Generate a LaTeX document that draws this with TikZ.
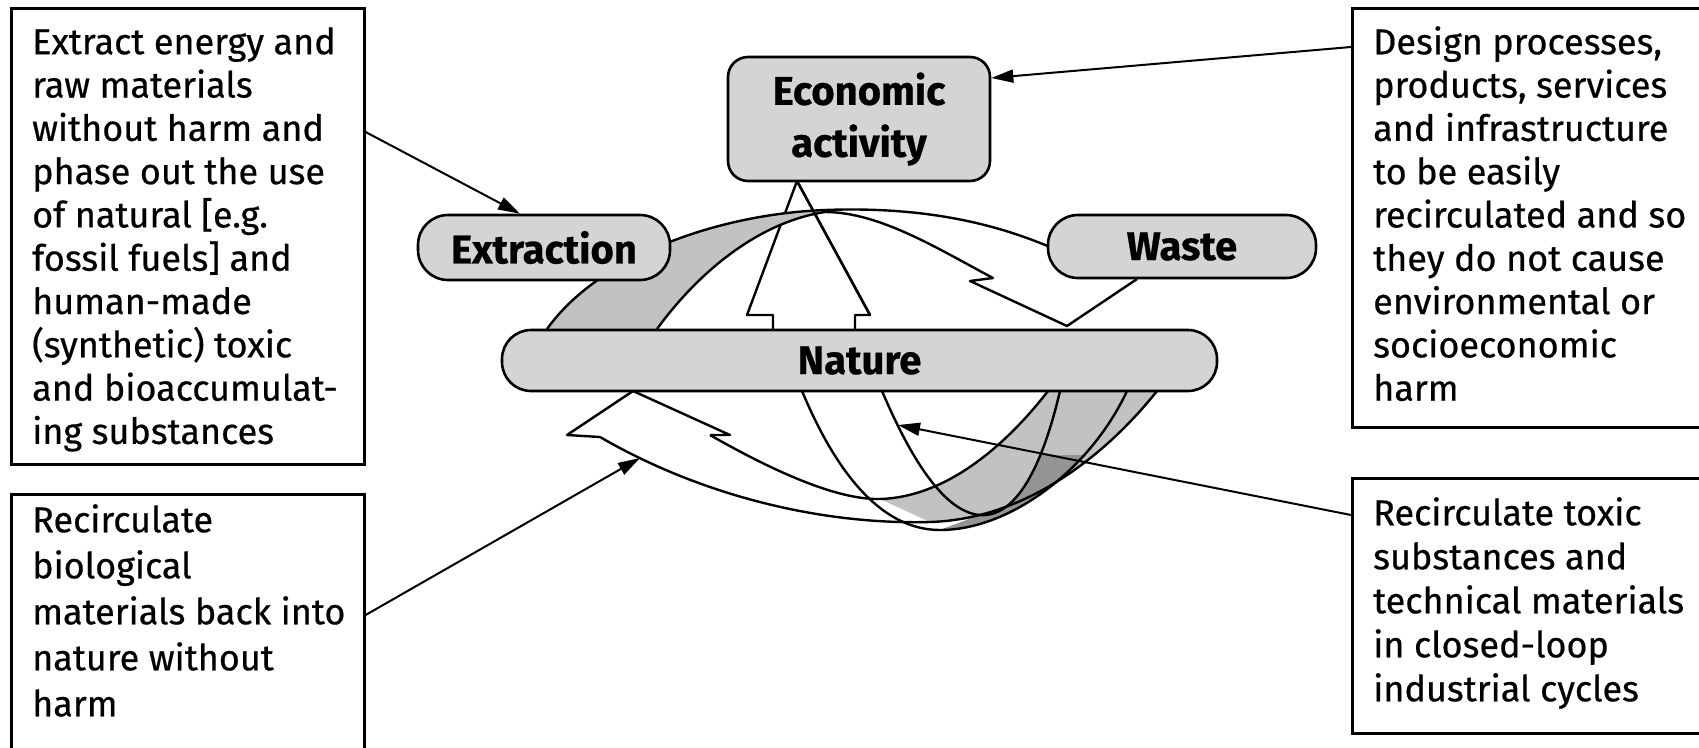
\documentclass[tikz,border=0pt]{standalone}
\usepackage{fontspec}
\setmainfont{Fira Sans}
\usetikzlibrary{arrows.meta}
\begin{document}
\begin{tikzpicture}[x=1pt,y=-1pt,
  box/.style={draw=black, line width=2.6pt, fill=white, inner sep=0pt, anchor=north west},
  lbl/.style={draw=black, line width=2.6pt, fill=black!17, font=\bfseries\fontsize{40}{52}\selectfont\addfontfeature{FakeBold=0.6}, align=center, inner sep=0pt},
  txt/.style={font=\fontsize{36}{43.3}\selectfont\addfontfeature{FakeBold=0.5}, align=left, inner sep=0pt, anchor=north west},
  edge/.style={line width=2.4pt, line join=round},
  ptr/.style={line width=2pt, -{Triangle[length=22pt,width=13pt]}},
  shadeA/.style={fill=black!24},
  shadeB/.style={fill=black!42},
]
\useasboundingbox (0,0) rectangle (1699,747);
\clip (0,0) rectangle (1699,747);
\fill[white] (0,0) rectangle (1699,747);

% text boxes
\node[box, minimum width=353pt, minimum height=456pt] (tl) at (10,7) {};
\node[box, minimum width=353pt, minimum height=300pt] (bl) at (10,493) {};
\node[box, minimum width=400pt, minimum height=419pt] (tr) at (1351,7) {};
\node[box, minimum width=400pt, minimum height=255pt] (br) at (1351,477) {};

\node[txt] (tlt) at (32,27) {Extract energy and\\raw materials\\without harm and\\phase out the use\\of natural [e.g.\\fossil fuels] and\\human-made\\(synthetic) toxic\\and bioaccumulat-\\ing substances};
\node[txt, font=\fontsize{36}{46}\selectfont\addfontfeature{FakeBold=0.5}] (blt) at (32,504) {Recirculate\\biological\\materials back into\\nature without\\harm};
\node[txt] (trt) at (1373,26) {Design processes,\\products, services\\and infrastructure\\to be easily\\recirculated and so\\they do not cause\\environmental or\\socioeconomic\\harm};
\node[txt, font=\fontsize{36}{44}\selectfont\addfontfeature{FakeBold=0.5}] (brt) at (1373,497) {Recirculate toxic\\substances and\\technical materials\\in closed-loop\\industrial cycles};

% hollow upward arrow
\draw[edge, fill=white] (773,329) -- (773,315) -- (747,315) -- (797,181) -- (870,315) -- (855,315) -- (855,329);

% top ribbon
\fill[shadeA] (547,329) .. controls (600,255) and (720,214) .. (825,210) -- (825,212) .. controls (760,222) and (700,270) .. (657,329) -- cycle;
\draw[edge] (547,329) .. controls (600,255) and (720,214) .. (825,210) .. controls (930,206) and (1000,226) .. (1050,247);
\draw[edge] (657,329) .. controls (700,270) and (760,222) .. (825,212) .. controls (880,212) and (940,250) .. (993,278) -- (970,281) -- (1067,326) -- (1137,279);
\draw[edge] (797,181) -- (870,315);

% bottom loops: fills
\fill[shadeA] (940,530) .. controls (1010,530) and (1090,470) .. (1127,391) -- (1060,391) .. controls (1045,455) and (1020,518) .. (980,515) -- cycle;
\fill[shadeA] (880,499) .. controls (950,497) and (1010,440) .. (1048,391) -- (1157,391) .. controls (1110,450) and (1030,519) .. (930,522) -- cycle;
\begin{scope}
  \clip (900,455) rectangle (1200,560);
  \fill[shadeB] (940,530) .. controls (1010,530) and (1090,470) .. (1127,391) -- (1060,391) .. controls (1045,455) and (1020,518) .. (980,515) -- cycle;
\end{scope}

% bottom loops: edges
\draw[edge] (710,435) .. controls (780,475) and (840,500) .. (880,499) .. controls (950,497) and (1010,440) .. (1048,391);
\draw[edge] (600,437) .. controls (700,495) and (820,525) .. (930,522) .. controls (1030,519) and (1110,450) .. (1157,391);
\draw[edge] (600,437) -- (567,435) -- (633,391) -- (730,435) -- (710,435);
\draw[edge] (802,391) .. controls (835,470) and (880,530) .. (940,530) .. controls (1010,530) and (1090,470) .. (1127,391);
\draw[edge] (882,391) .. controls (905,445) and (940,512) .. (980,515) .. controls (1020,518) and (1045,455) .. (1060,391);

% labelled nodes
\node[lbl, rounded corners=20pt, minimum width=262pt, minimum height=124pt] (econ) at (859,119) {Economic\\activity};
\node[lbl, rounded corners=30pt, minimum width=252pt, minimum height=65pt] (extr) at (544,247.5) {Extraction};
\node[lbl, rounded corners=30pt, minimum width=268pt, minimum height=63pt] (waste) at (1182,246.5) {Waste};
\node[lbl, rounded corners=29pt, minimum width=715pt, minimum height=61pt] (nature) at (859.5,360.5) {Nature};

% pointers
\coordinate (bioP) at (640,458);
\coordinate (techP) at (898,425);
\draw[ptr] (tl.east |- 0,132) -- (extr.north -| 520,0);
\draw[ptr] (tr.west |- 0,47) -- (econ.east |- 0,78);
\draw[ptr] (bl.east |- 0,615) -- (bioP);
\draw[ptr] (br.west |- 0,515) -- (techP);
\end{tikzpicture}
\end{document}
